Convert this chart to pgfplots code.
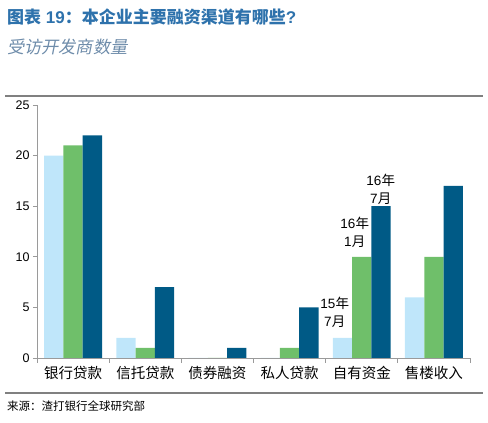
\documentclass[border=0pt]{standalone}
\usepackage{pgfplots}
\pgfplotsset{compat=1.18}
\usepackage{fontspec}
\setmainfont{Liberation Sans}
\newfontfamily\cjk{Noto Sans CJK SC}
\newfontfamily\cjkit{Noto Sans CJK SC}[FakeSlant=0.2]
\definecolor{cA}{HTML}{BFE6FA}
\definecolor{cB}{HTML}{6FBF6A}
\definecolor{cC}{HTML}{005A86}
\definecolor{titleblue}{HTML}{2E72AC}
\definecolor{subblue}{HTML}{6E8CAA}
\definecolor{rulegray}{HTML}{808080}
\definecolor{axgray}{HTML}{9A9A9A}
\begin{document}
\begin{tikzpicture}[x=1pt,y=1pt]
\useasboundingbox (0,0) rectangle (488,423);
\node[anchor=west, text=titleblue, inner sep=0pt, font=\fontsize{17}{19}\selectfont\bfseries] at (7,406) {{\cjk\bfseries 图表} 19{\cjk\bfseries ：本企业主要融资渠道有哪些}?};
\node[anchor=west, text=subblue, inner sep=0pt, font=\fontsize{17.2}{19}\selectfont] at (7,376) {\cjkit 受访开发商数量};
\draw[line width=2.2pt, rulegray] (5,327) -- (483,327);
\draw[line width=2.2pt, rulegray] (5,30) -- (483,30);
\node[anchor=west, inner sep=0pt, font=\fontsize{11.5}{13}\selectfont] at (7,17) {\cjk 来源：渣打银行全球研究部};
\begin{axis}[
  at={(37pt,65pt)}, anchor=south west,
  scale only axis, width=433pt, height=253pt,
  ymin=0, ymax=25, xmin=-0.5, xmax=5.5,
  ybar=0pt, bar width=19.3pt,
  axis x line*=bottom, axis y line*=left,
  axis line style={axgray, line width=0.8pt},
  ytick={0,5,...,25},
  xtick={0,...,5},
  xticklabels={银行贷款,信托贷款,债券融资,私人贷款,自有资金,售楼收入},
  minor xtick={-0.5,0.5,...,5.5},
  major x tick style={draw=none},
  minor tick style={axgray, line width=0.8pt},
  y tick style={axgray, line width=0.8pt},
  tick align=outside,
  major tick length=4pt, minor tick length=5pt,
  x tick label style={font=\cjk\fontsize{14.5}{16}\selectfont, yshift=-1pt},
  y tick label style={font=\fontsize{12.5}{14}\selectfont},
  /pgf/number format/assume math mode=true,
  clip=false,
]
\addplot[fill=cA, draw=none] coordinates {(0,20) (1,2) (2,0) (3,0) (4,2) (5,6)};
\addplot[fill=cB, draw=none] coordinates {(0,21) (1,1) (2,0) (3,1) (4,10) (5,10)};
\addplot[fill=cC, draw=none] coordinates {(0,22) (1,7) (2,1) (3,5) (4,15) (5,17)};
\node[anchor=south, align=center, inner sep=0pt, font=\fontsize{13.5}{18}\selectfont, xshift=-27pt, yshift=10pt] at (axis cs:4,2) {15{\cjk 年}\\7{\cjk 月}};
\node[anchor=south, align=center, inner sep=0pt, font=\fontsize{13.5}{18}\selectfont, xshift=-7pt, yshift=9pt] at (axis cs:4,10) {16{\cjk 年}\\1{\cjk 月}};
\node[anchor=south, align=center, inner sep=0pt, font=\fontsize{13.5}{18}\selectfont, xshift=19pt, yshift=1.5pt] at (axis cs:4,15) {16{\cjk 年}\\7{\cjk 月}};
\end{axis}
\end{tikzpicture}
\end{document}
